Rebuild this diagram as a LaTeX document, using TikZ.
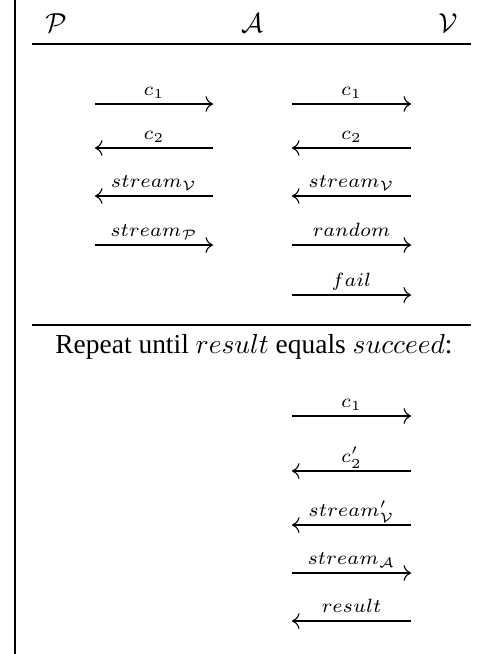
\documentclass[tikz,border=0pt]{standalone}
\usepackage[no-math]{fontspec}
\setmainfont{Liberation Serif}
\usepackage{amsmath}
\usetikzlibrary{arrows.meta}
\tikzset{
  party/.style={inner sep=0pt, font=\normalsize},
  rule/.style={line width=0.45pt},
  msg/.style={-{Computer Modern Rightarrow[scale=1.1]}, line width=0.4pt},
  lbl/.style={anchor=base, yshift=3pt, inner sep=0pt, font=\scriptsize}
}
\begin{document}
\begin{tikzpicture}[x=0.0128cm, y=-0.0128cm]
\useasboundingbox (0,0) rectangle (485,654);
\draw[rule] (15,0) -- (15,654);
% parties
\node[party] (p) at (56,23) {$\mathcal{P}$};
\node[party] (a) at (252,23) {$\mathcal{A}$};
\node[party] (v) at (448,23) {$\mathcal{V}$};
\coordinate (top1) at (32,44);
\coordinate (top2) at (471,44);
\draw[rule] (top1) -- (top2);
% P <-> A
\coordinate (pl1) at (95,104); \coordinate (pr1) at (213,104);
\coordinate (pl2) at (95,148); \coordinate (pr2) at (213,148);
\coordinate (pl3) at (95,196); \coordinate (pr3) at (213,196);
\coordinate (pl4) at (95,245); \coordinate (pr4) at (213,245);
\draw[msg] (pl1) -- node[lbl] {$c_1$} (pr1);
\draw[msg] (pr2) -- node[lbl] {$c_2$} (pl2);
\draw[msg] (pr3) -- node[lbl] {$stream_{\mathcal{V}}$} (pl3);
\draw[msg] (pl4) -- node[lbl] {$stream_{\mathcal{P}}$} (pr4);
% A <-> V
\coordinate (al1) at (292,104); \coordinate (ar1) at (411,104);
\coordinate (al2) at (292,148); \coordinate (ar2) at (411,148);
\coordinate (al3) at (292,196); \coordinate (ar3) at (411,196);
\coordinate (al4) at (292,245); \coordinate (ar4) at (411,245);
\coordinate (al5) at (292,295); \coordinate (ar5) at (411,295);
\draw[msg] (al1) -- node[lbl] {$c_1$} (ar1);
\draw[msg] (ar2) -- node[lbl] {$c_2$} (al2);
\draw[msg] (ar3) -- node[lbl] {$stream_{\mathcal{V}}$} (al3);
\draw[msg] (al4) -- node[lbl] {$random$} (ar4);
\draw[msg] (al5) -- node[lbl] {$fail$} (ar5);
\coordinate (mid1) at (32,325);
\coordinate (mid2) at (471,325);
\draw[rule] (mid1) -- (mid2);
\node[anchor=base, inner sep=0pt] (rep) at (254,354) {Repeat until $result$ equals $succeed$:};
% repeated round
\coordinate (bl1) at (292,416); \coordinate (br1) at (411,416);
\coordinate (bl2) at (292,471); \coordinate (br2) at (411,471);
\coordinate (bl3) at (292,525); \coordinate (br3) at (411,525);
\coordinate (bl4) at (292,573); \coordinate (br4) at (411,573);
\coordinate (bl5) at (292,621); \coordinate (br5) at (411,621);
\draw[msg] (bl1) -- node[lbl] {$c_1$} (br1);
\draw[msg] (br2) -- node[lbl] {$c_2'$} (bl2);
\draw[msg] (br3) -- node[lbl] {$stream_{\mathcal{V}}'$} (bl3);
\draw[msg] (bl4) -- node[lbl] {$stream_{\mathcal{A}}$} (br4);
\draw[msg] (br5) -- node[lbl] {$result$} (bl5);
\end{tikzpicture}
\end{document}
